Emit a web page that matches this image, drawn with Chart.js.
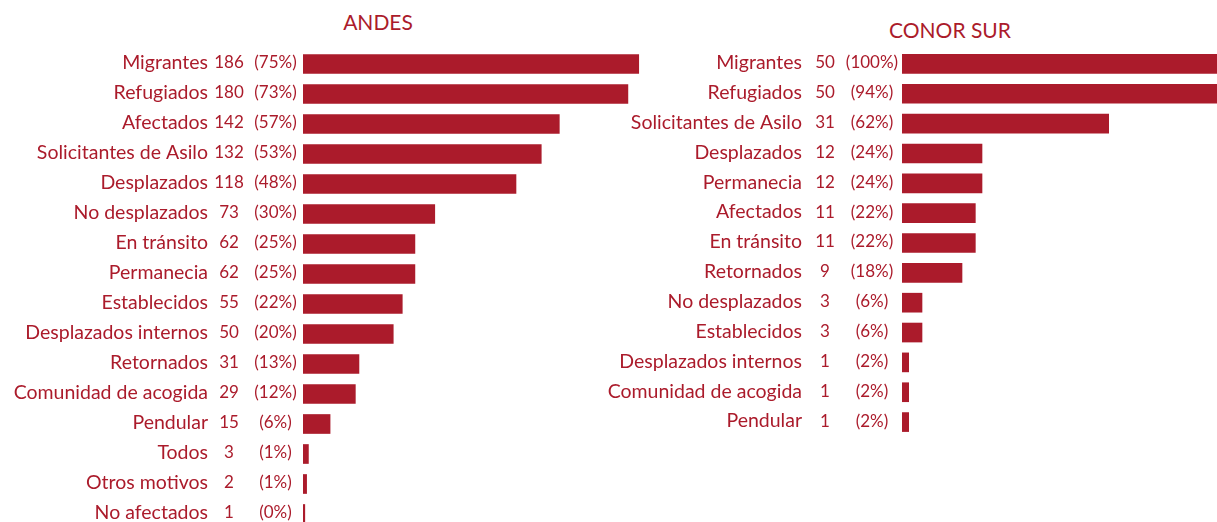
<!DOCTYPE html>
<html>
<head>
<meta charset="utf-8">
<script src="https://cdn.jsdelivr.net/npm/chart.js@4"></script>
<style>
  html, body { margin:0; padding:0; background:#fff; overflow:hidden; }
  body { width:1217px; height:522px; position:relative; font-family: Lato, "Noto Sans", sans-serif; }
  canvas { position:absolute; top:0; }
  .title { position:absolute; color:#ab1b2b; font-size:21px; transform:translateX(-50%); white-space:nowrap; }
</style>
</head>
<body>
<div class="title" style="left:378px; top:9px;">ANDES</div>
<div class="title" style="left:950px; top:17px;">CONOR SUR</div>
<div style="position:absolute;left:0;top:0;width:664px;height:522px;"><canvas id="c1"></canvas></div>
<div style="position:absolute;left:600px;top:0;width:617px;height:522px;"><canvas id="c2"></canvas></div>
<script>
const andesCategories = ["Migrantes","Refugiados","Afectados","Solicitantes de Asilo","Desplazados","No desplazados","En tránsito","Permanecia","Establecidos","Desplazados internos","Retornados","Comunidad de acogida","Pendular","Todos","Otros motivos","No afectados"];
const andesValues = [186,180,142,132,118,73,62,62,55,50,31,29,15,3,2,1];
const andesPercents = ["(75%)","(73%)","(57%)","(53%)","(48%)","(30%)","(25%)","(25%)","(22%)","(20%)","(13%)","(12%)","(6%)","(1%)","(1%)","(0%)"];

const surCategories = ["Migrantes","Refugiados","Solicitantes de Asilo","Desplazados","Permanecia","Afectados","En tránsito","Retornados","No desplazados","Establecidos","Desplazados internos","Comunidad de acogida","Pendular"];
const surValues = [50,50,31,12,12,11,11,9,3,3,1,1,1];
const surPercents = ["(100%)","(94%)","(62%)","(24%)","(24%)","(22%)","(22%)","(18%)","(6%)","(6%)","(2%)","(2%)","(2%)"];

const RED = "#ab1b2b";
const FONT = 'Lato, "Noto Sans", sans-serif';

function labelPlugin(values, percents, nameRight, numCenter, pctCenter) {
  return {
    id: 'rowLabels',
    afterDatasetsDraw(chart) {
      const ctx = chart.ctx;
      const y = chart.scales.y;
      const labels = chart.data.labels;
      ctx.save();
      ctx.fillStyle = RED;
      ctx.textBaseline = 'middle';
      labels.forEach((lab, i) => {
        const py = y.getPixelForValue(i) - 1;
        ctx.font = '19.5px ' + FONT;
        ctx.textAlign = 'right';
        ctx.fillText(lab, nameRight, py);
        ctx.font = '17px ' + FONT;
        ctx.textAlign = 'center';
        ctx.fillText(String(values[i]), numCenter, py);
        ctx.fillText(percents[i], pctCenter, py);
      });
      ctx.restore();
    }
  };
}

function makeChart(id, cats, vals, pcts, opts) {
  return new Chart(document.getElementById(id), {
    type: 'bar',
    data: {
      labels: cats,
      datasets: [{
        data: vals,
        backgroundColor: RED,
        borderWidth: 0,
        barThickness: 19,
        clip: opts.clip
      }]
    },
    options: {
      indexAxis: 'y',
      responsive: true,
      maintainAspectRatio: false,
      animation: false,
      layout: { padding: opts.padding },
      plugins: { legend: { display: false }, tooltip: { enabled: false }, title: { display: false } },
      scales: {
        x: { min: 0, max: opts.max, display: false, grid: { display: false } },
        y: { display: false, offset: opts.offset, grid: { display: false } }
      }
    },
    plugins: [labelPlugin(vals, pcts, opts.nameRight, opts.numCenter, opts.pctCenter)]
  });
}

makeChart('c1', andesCategories, andesValues, andesPercents, {
  max: 200, offset: false,
  padding: { left: 303, right: 0, top: 64, bottom: 8 },
  clip: { left: 0, right: 0, top: false, bottom: false },
  nameRight: 208, numCenter: 229, pctCenter: 275.5
});

makeChart('c2', surCategories, surValues, surPercents, {
  max: 47.25, offset: true,
  padding: { left: 302, right: 0, top: 49, bottom: 85 },
  clip: { left: 0, right: 0, top: false, bottom: false },
  nameRight: 202, numCenter: 225, pctCenter: 272
});
</script>
</body>
</html>
